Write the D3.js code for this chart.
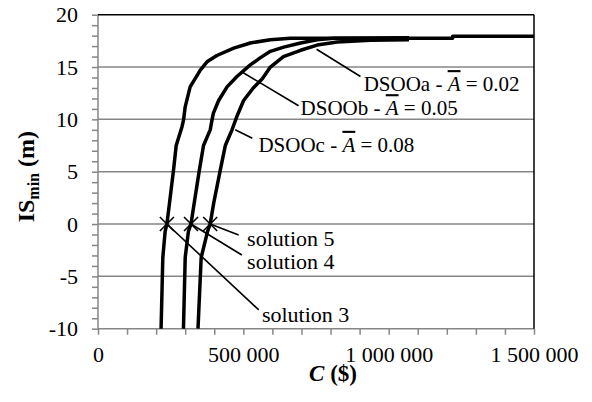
<!DOCTYPE html>
<html lang="en">

<head>
    <meta charset="UTF-8">
    <title>IS min vs C</title>
    <script src="https://d3js.org/d3.v7.min.js"></script>
    <style>
        body {
            margin: 0;
            background-color: #fff;
        }

        svg {
            display: block;
            font-family: 'Liberation Serif', 'Times New Roman', serif;
        }

        .axis path {
            display: none;
        }

        .axis line {
            stroke: #868686;
            stroke-width: 1.5;
        }

        .axis text {
            font-family: 'Liberation Serif', 'Times New Roman', serif;
            font-size: 22px;
            fill: #000;
        }
    </style>
</head>

<body>
    <div id="chart"></div>
    <script>
        // curves (cost in $, IS min in m)
        const costA = [217000, 223000, 231000, 237000, 246000, 260000, 269000, 289000, 294000, 300000, 317000, 352000, 375000, 409000, 467000, 524000, 593000, 662000, 1220000, 1220000, 1500000];
        const isA = [-10, -3.2, -0.7, 0, 2.0, 5.2, 7.5, 9.3, 9.9, 11.2, 13.1, 14.7, 15.5, 16.1, 16.8, 17.3, 17.6, 17.75, 17.75, 17.95, 17.95];

        const costB = [294000, 300000, 311000, 320000, 331000, 349000, 363000, 386000, 392000, 397000, 415000, 444000, 478000, 524000, 559000, 593000, 639000, 697000, 754000, 810000, 1070000];
        const isB = [-10, -3.2, -0.7, 0, 2.0, 5.2, 7.5, 9.0, 9.9, 10.6, 11.8, 13.1, 14.1, 15.2, 15.9, 16.5, 16.9, 17.3, 17.6, 17.75, 17.8];

        const costC = [344000, 355000, 377000, 386000, 398000, 421000, 438000, 461000, 478000, 501000, 534000, 566000, 593000, 638000, 697000, 754000, 823000, 938000, 1070000];
        const isC = [-10, -3.2, -0.7, 0, 2.0, 5.2, 7.5, 9.0, 10.3, 11.8, 13.0, 13.9, 15.0, 16.0, 16.6, 17.1, 17.4, 17.55, 17.6];

        const curveNames = ["DSOOa", "DSOOb", "DSOOc"];
        const curveAbar = ["0.02", "0.05", "0.08"];

        // selected solutions
        const solutionNames = ["solution 3", "solution 4", "solution 5"];
        const solutionCost = [237000, 320000, 386000];
        const solutionIS = [0, 0, 0];

        const yTicks = [-10, -5, 0, 5, 10, 15, 20];
        const xTicks = [0, 500000, 1000000, 1500000];

        // annotation anchors (data units): leader start, leader end, text start
        const curveLeadFrom = [[752000, 16.7], [497000, 14.5], [472000, 9.0]];
        const curveLeadTo = [[903000, 14.1], [690000, 11.3], [531000, 8.2]];
        const curveLabelAt = [[914000, 12.7], [697000, 10.4], [552000, 6.9]];
        const solutionLeadTo = [[553000, -8.2], [495000, -2.96], [484000, -1.05]];
        const solutionLabelAt = [[564000, -9.35], [513000, -4.3], [513000, -2.1]];

        let width = 592,
            height = 402,
            margin = { top: 14.7, right: 58, bottom: 73.3, left: 98 };

        let svg = d3.select("#chart").append("svg")
            .attr("width", width)
            .attr("height", height);

        let x = d3.scaleLinear()
            .domain([0, 1500000])
            .range([margin.left, width - margin.right]);

        let y = d3.scaleLinear()
            .domain([-10, 20])
            .range([height - margin.bottom, margin.top]);

        let locale = d3.formatLocale({ decimal: ".", thousands: " ", grouping: [3], currency: ["", "$"] });
        let fmt = locale.format(",");

        // gridlines
        svg.append("g")
            .selectAll("line")
            .data(yTicks.filter(d => d > -10 && d < 20))
            .enter()
            .append("line")
            .attr("x1", x(0))
            .attr("x2", x(1500000))
            .attr("y1", d => y(d))
            .attr("y2", d => y(d))
            .attr("stroke", "#868686")
            .attr("stroke-width", 1.5);

        // y axis (minor ticks every 1)
        svg.append("g")
            .attr("class", "axis")
            .attr("transform", `translate(${x(0)},0)`)
            .call(d3.axisLeft(y)
                .tickValues(d3.range(-10, 21, 1))
                .tickSize(6)
                .tickPadding(14)
                .tickFormat(d => yTicks.includes(d) ? d : ""));

        // x axis (minor ticks every 100 000)
        svg.append("g")
            .attr("class", "axis")
            .attr("transform", `translate(0,${y(-10)})`)
            .call(d3.axisBottom(x)
                .tickValues(d3.range(0, 1500001, 100000))
                .tickSize(6)
                .tickPadding(12)
                .tickFormat(d => xTicks.includes(d) ? fmt(d) : ""));

        // axis lines
        svg.append("line")
            .attr("x1", x(0)).attr("x2", x(0))
            .attr("y1", y(-10)).attr("y2", y(20))
            .attr("stroke", "#868686").attr("stroke-width", 1.5);
        svg.append("line")
            .attr("x1", x(0)).attr("x2", x(1500000))
            .attr("y1", y(-10)).attr("y2", y(-10))
            .attr("stroke", "#868686").attr("stroke-width", 1.5);
        svg.append("line")
            .attr("x1", x(0)).attr("x2", x(1500000))
            .attr("y1", y(20)).attr("y2", y(20))
            .attr("stroke", "#000").attr("stroke-width", 1.5);
        svg.append("line")
            .attr("x1", x(1500000)).attr("x2", x(1500000))
            .attr("y1", y(-10)).attr("y2", y(20))
            .attr("stroke", "#000").attr("stroke-width", 1.5);

        // curves
        let series = [
            costA.map((c, i) => [c, isA[i]]),
            costB.map((c, i) => [c, isB[i]]),
            costC.map((c, i) => [c, isC[i]])
        ];

        let line = d3.line()
            .x(d => x(d[0]))
            .y(d => y(d[1]));

        svg.append("g")
            .selectAll("path")
            .data(series)
            .enter()
            .append("path")
            .attr("d", line)
            .attr("fill", "none")
            .attr("stroke", "#000")
            .attr("stroke-width", 3.5)
            .attr("stroke-linejoin", "round");

        // leader lines
        let leaders = svg.append("g")
            .attr("stroke", "#000")
            .attr("stroke-width", 1.6);

        curveLeadFrom.forEach((p, i) => {
            leaders.append("line")
                .attr("x1", x(p[0])).attr("y1", y(p[1]))
                .attr("x2", x(curveLeadTo[i][0])).attr("y2", y(curveLeadTo[i][1]));
        });

        solutionCost.forEach((c, i) => {
            leaders.append("line")
                .attr("x1", x(c)).attr("y1", y(solutionIS[i]))
                .attr("x2", x(solutionLeadTo[i][0])).attr("y2", y(solutionLeadTo[i][1]));
        });

        // solution markers
        let marks = svg.append("g")
            .attr("stroke", "#000")
            .attr("stroke-width", 1.6);

        solutionCost.forEach((c, i) => {
            let cx = x(c), cy = y(solutionIS[i]);
            marks.append("path")
                .attr("d", `M${cx - 7},${cy - 7}L${cx + 7},${cy + 7}M${cx - 7},${cy + 7}L${cx + 7},${cy - 7}`);
        });

        // curve labels
        curveNames.forEach((name, i) => {
            let t = svg.append("text")
                .attr("x", x(curveLabelAt[i][0]))
                .attr("y", y(curveLabelAt[i][1]))
                .style("font-size", "21px");
            t.append("tspan").text(name + " - ");
            t.append("tspan")
                .style("font-style", "italic")
                .style("text-decoration", "overline")
                .text("A");
            t.append("tspan").text(" = " + curveAbar[i]);
        });

        // solution labels
        solutionNames.forEach((name, i) => {
            svg.append("text")
                .attr("x", x(solutionLabelAt[i][0]))
                .attr("y", y(solutionLabelAt[i][1]))
                .style("font-size", "22px")
                .text(name);
        });

        // axis titles
        let yTitle = svg.append("text")
            .attr("transform", `translate(34,${(margin.top + height - margin.bottom) / 2 + 5}) rotate(-90)`)
            .attr("text-anchor", "middle")
            .style("font-size", "24px")
            .style("font-weight", "bold");
        yTitle.append("tspan").text("IS");
        yTitle.append("tspan").attr("dy", 5).style("font-size", "16px").text("min");
        yTitle.append("tspan").attr("dy", -5).text(" (m)");

        let xTitle = svg.append("text")
            .attr("x", 333)
            .attr("y", 381)
            .attr("text-anchor", "middle")
            .style("font-size", "23px")
            .style("font-weight", "bold");
        xTitle.append("tspan").style("font-style", "italic").text("C");
        xTitle.append("tspan").text(" ($)");
    </script>
</body>

</html>
